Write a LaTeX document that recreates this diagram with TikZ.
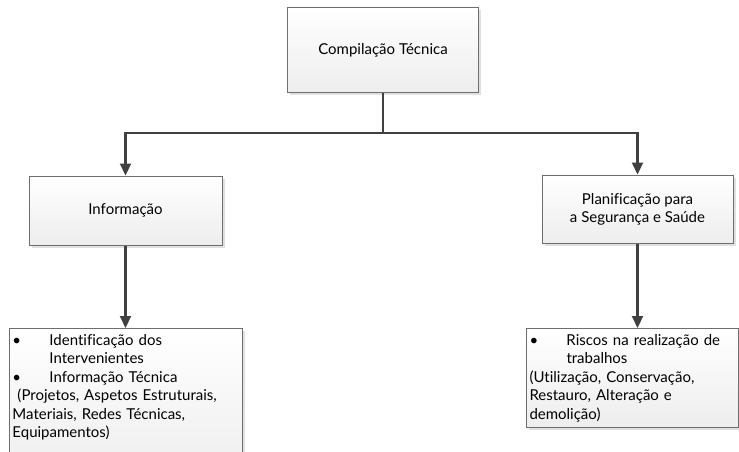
\documentclass[tikz,border=0pt]{standalone}
\usepackage{fontspec}
\setmainfont{Lato}[Ligatures=NoCommon]
\usepackage{tikz}
\usetikzlibrary{arrows.meta}
\usetikzlibrary{shadows}
\usetikzlibrary{positioning}
\definecolor{lineg}{HTML}{404040}
\definecolor{edgeg}{HTML}{6E6E6E}
\newcommand{\bul}{\makebox[37pt][l]{\textbullet}}
\newcommand{\ind}{\hspace*{37pt}}

\begin{document}
\begin{tikzpicture}[x=1pt,y=-1pt,>={Triangle[width=11pt,length=12pt]},
  box/.style={draw=edgeg,line width=1pt,top color=white,bottom color=black!7,
    drop shadow={shadow xshift=2.5pt,shadow yshift=-2.5pt,fill=black!12,opacity=1},
    minimum width=#1,inner sep=4pt,align=center,font=\fontsize{15}{18}\selectfont},
  list/.style={box=#1,align=left,anchor=north west,inner xsep=3pt,inner ysep=6pt,
    font=\fontsize{15}{18.4}\selectfont},
  conn/.style={draw=lineg,line width=2.2pt}]
   \useasboundingbox (0,0) rectangle (739,452);
   \clip (0,0) rectangle (739,452);
   \node[box=191pt,minimum height=84pt] (tec)  at (383,50)    {Compilação Técnica};
   \node[box=193pt,minimum height=69pt] (info) at (125.5,210.5) {Informação};
   \node[box=191pt,minimum height=68pt] (plan) at (637.5,209) {Planificação para\\a Segurança e Saúde};
   \node[list=233pt,text width=227pt] (infolist) at (9,328)
     {\bul Identificação dos\\ \ind Intervenientes\\ \bul Informação Técnica\\
      \ (Projetos, Aspetos Estruturais,\\Materiais, Redes Técnicas,\\Equipamentos)\\ \mbox{}\\ \mbox{}};
   \node[list=212pt,text width=206pt] (planlist) at (526,328)
     {\bul Riscos na realização de\\ \ind trabalhos\\(Utilização, Conservação,\\Restauro, Alteração e\\demolição)};
   \coordinate (split) at (383,133);
   \draw[conn] (tec.south) -- (split);
   \draw[conn,->] (split) -| (info.north);
   \draw[conn,->] (split) -| (plan.north);
   \draw[conn,->] (info.south) -- (infolist.north -| info.south);
   \draw[conn,->] (plan.south) -- (planlist.north -| plan.south);
\end{tikzpicture}
\end{document}
